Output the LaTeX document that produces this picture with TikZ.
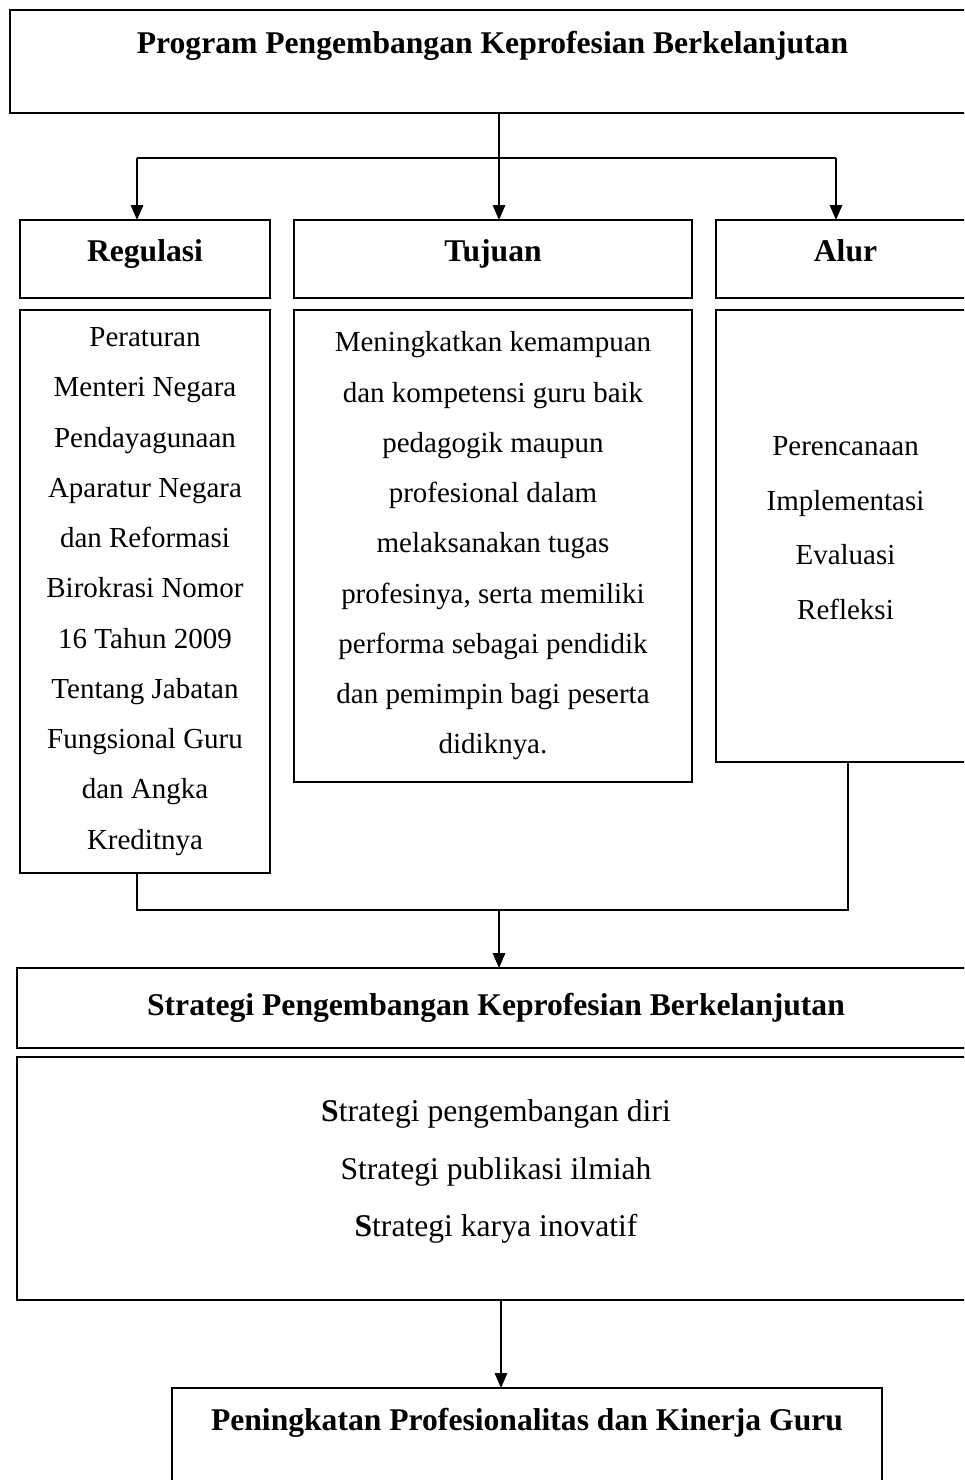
\documentclass[tikz,border=0pt]{standalone}
\usepackage{fontspec}
\setmainfont{Liberation Serif}
\usetikzlibrary{positioning,arrows.meta}

\tikzset{
  box/.style 2 args={draw, line width=1.2pt, outer sep=0pt, inner sep=0pt, align=center,
    minimum width=#1*0.02cm, minimum height=#2*0.02cm},
  headfont/.style={font=\bfseries\fontsize{18}{22}\selectfont},
  headbox/.style={box={#1}{78}, headfont, text height=12.4pt, text depth=9pt},
  bodyfont/.style={font=\fontsize{16.5}{28.6}\selectfont},
  link/.style={line width=1.2pt},
  arr/.style={link, -{Triangle[length=8.5pt,width=7pt]}},
}

\begin{document}
\begin{tikzpicture}[x=0.02cm, y=-0.02cm]
        \useasboundingbox (0,0) rectangle (964,1480);
        \clip (0,0) rectangle (964,1480);

        \node[box={965}{103}, headfont, anchor=north west] (prog) at (10,10) {Program Pengembangan Keprofesian Berkelanjutan\\[0pt]\mbox{}};

        \node[headbox=250, anchor=north west] (regh) at (20,220) {Regulasi};
        \node[headbox=398, right=0.48cm of regh] (tujh) {Tujuan};
        \node[headbox=259, right=0.48cm of tujh] (alurh) {Alur};

        \node[box={250}{563}, bodyfont, below=0.24cm of regh] (regb) {Peraturan\\Menteri Negara\\Pendayagunaan\\Aparatur Negara\\dan Reformasi\\Birokrasi Nomor\\16 Tahun 2009\\Tentang Jabatan\\Fungsional Guru\\dan Angka\\Kreditnya};
        \node[box={398}{472}, bodyfont, below=0.24cm of tujh] (tujb) {Meningkatkan kemampuan\\dan kompetensi guru baik\\pedagogik maupun\\profesional dalam\\melaksanakan tugas\\profesinya, serta memiliki\\performa sebagai pendidik\\dan pemimpin bagi peserta\\didiknya.};
        \node[box={259}{452}, font=\fontsize{16.5}{31.2}\selectfont, below=0.24cm of alurh] (alurb) {Perencanaan\\Implementasi\\Evaluasi\\Refleksi\\[-22pt]\mbox{}};

        \node[box={958}{80}, headfont, anchor=north west] (strath) at (17,968) {Strategi Pengembangan Keprofesian Berkelanjutan};
        \node[box={958}{243}, font=\fontsize{18}{32.9}\selectfont, below=0.18cm of strath] (stratb) {\textbf{S}trategi pengembangan diri\\Strategi publikasi ilmiah\\\textbf{S}trategi karya inovatif\\[-21pt]\mbox{}};

        \node[box={710}{120}, headfont, anchor=north west] (hasil) at (172,1388) {Peningkatan Profesionalitas dan Kinerja Guru\\[11pt]\mbox{}};

        % branching from the program box
        \coordinate (split) at (499,158);
        \coordinate (splitL) at (137,158);
        \coordinate (splitR) at (836,158);
        \draw[link] (split |- prog.south) -- (split);
        \draw[link] (splitL) -- (splitR);
        \draw[arr] (splitL) -- (splitL |- regh.north);
        \draw[arr] (split) -- (split |- tujh.north);
        \draw[arr] (splitR) -- (splitR |- alurh.north);

        % joining into the strategy box
        \coordinate (joinL) at (137,910);
        \coordinate (joinR) at (848,910);
        \coordinate (join) at (499,910);
        \draw[link] (joinL |- regb.south) -- (joinL) -- (joinR) -- (joinR |- alurb.south);
        \draw[arr] (join) -- (join |- strath.north);

        \coordinate (down) at (501,1300);
        \draw[arr] (down |- stratb.south) -- (down |- hasil.north);
\end{tikzpicture}
\end{document}
